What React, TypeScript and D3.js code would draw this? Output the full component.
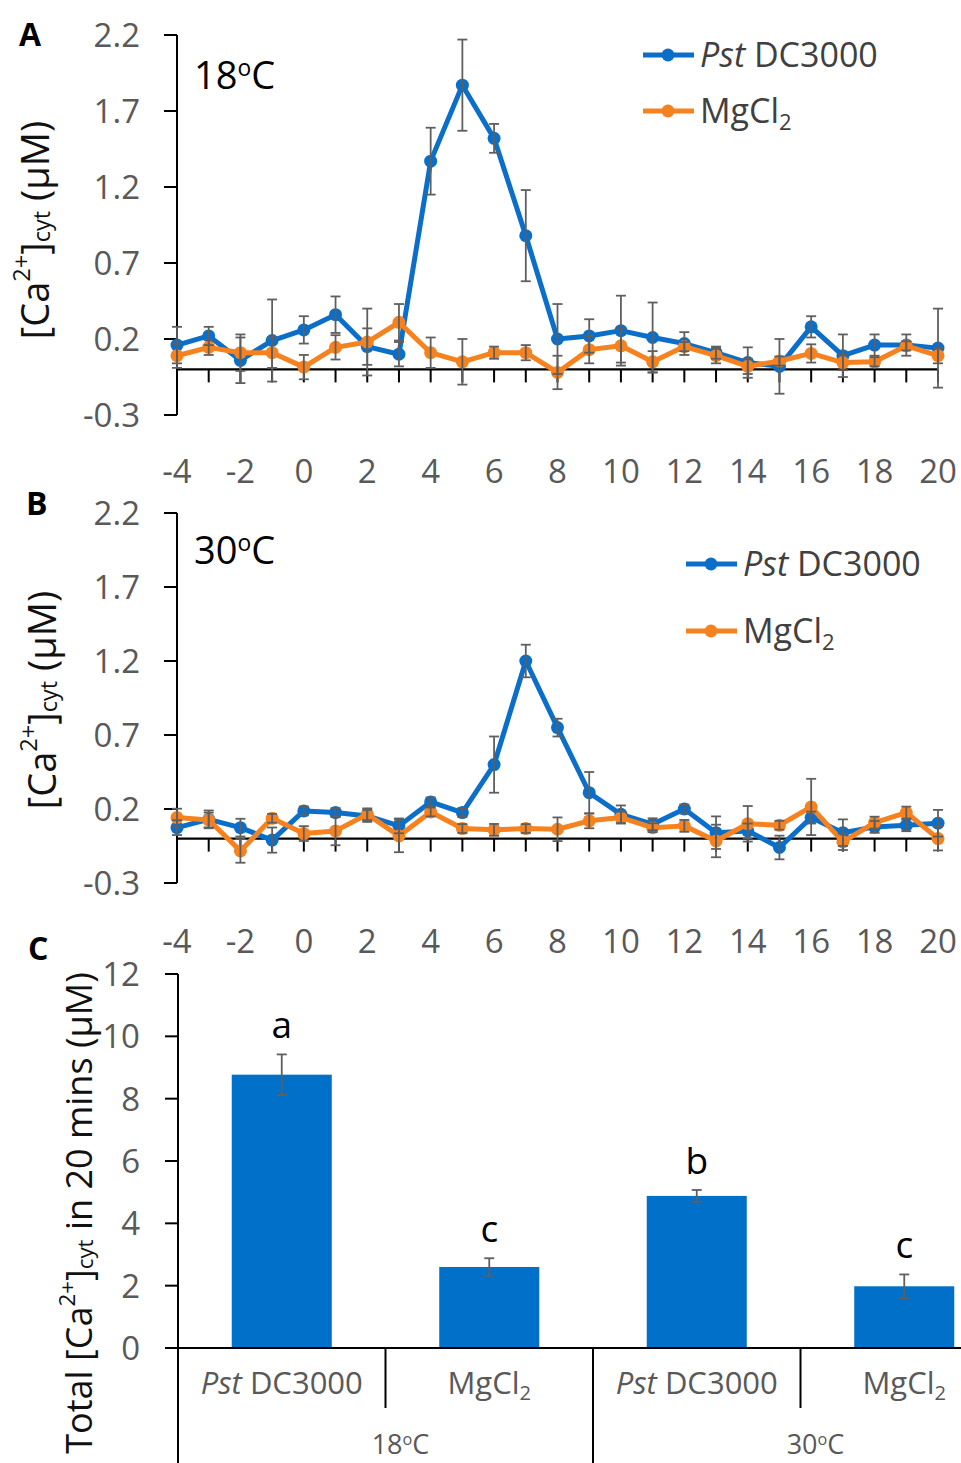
import React from "react";
import * as d3 from "d3";

const minutes = [-4, -3, -2, -1, 0, 1, 2, 3, 4, 5, 6, 7, 8, 9, 10, 11, 12, 13, 14, 15, 16, 17, 18, 19, 20];
const xTickLabels = [-4, -2, 0, 2, 4, 6, 8, 10, 12, 14, 16, 18, 20];
const yTickLabels = [-0.3, 0.2, 0.7, 1.2, 1.7, 2.2];

// Panel A (18 °C)
const pst18 = [0.16, 0.22, 0.06, 0.19, 0.26, 0.36, 0.15, 0.1, 1.37, 1.87, 1.52, 0.88, 0.2, 0.22, 0.255, 0.21, 0.17, 0.11, 0.045, 0.02, 0.28, 0.09, 0.16, 0.16, 0.14];
const pst18Err = [0.12, 0.06, 0.15, 0.27, 0.09, 0.12, 0.12, 0.08, 0.22, 0.3, 0.095, 0.3, 0.23, 0.11, 0.23, 0.23, 0.075, 0.04, 0.1, 0.18, 0.07, 0.14, 0.07, 0.07, 0.26];
const mg18 = [0.09, 0.145, 0.11, 0.11, 0.015, 0.145, 0.18, 0.31, 0.11, 0.05, 0.11, 0.11, -0.02, 0.13, 0.155, 0.05, 0.15, 0.09, 0.02, 0.055, 0.105, 0.045, 0.05, 0.155, 0.09];
const mg18Err = [0.08, 0.05, 0.12, 0.1, 0.08, 0.08, 0.22, 0.12, 0.1, 0.15, 0.04, 0.05, 0.11, 0.09, 0.11, 0.07, 0.03, 0.05, 0.05, 0.03, 0.06, 0.05, 0.03, 0.03, 0.05];

// Panel B (30 °C)
const pst30 = [0.074, 0.13, 0.074, -0.01, 0.187, 0.176, 0.153, 0.086, 0.248, 0.176, 0.5, 1.2, 0.75, 0.31, 0.164, 0.097, 0.2, 0.04, 0.052, -0.06, 0.142, 0.04, 0.079, 0.09, 0.104];
const pst30Err = [0.05, 0.06, 0.06, 0.085, 0.03, 0.03, 0.04, 0.05, 0.03, 0.03, 0.19, 0.11, 0.06, 0.14, 0.06, 0.04, 0.03, 0.11, 0.05, 0.08, 0.04, 0.09, 0.04, 0.04, 0.09];
const mg30 = [0.142, 0.126, -0.083, 0.137, 0.034, 0.052, 0.164, 0.018, 0.18, 0.068, 0.059, 0.068, 0.063, 0.12, 0.142, 0.074, 0.086, -0.016, 0.1, 0.09, 0.214, -0.022, 0.108, 0.176, 0.0];
const mg30Err = [0.06, 0.05, 0.08, 0.03, 0.05, 0.097, 0.04, 0.11, 0.03, 0.03, 0.04, 0.03, 0.08, 0.05, 0.04, 0.03, 0.04, 0.11, 0.12, 0.03, 0.19, 0.055, 0.04, 0.04, 0.08];

// Panel C
const barCategories = ["Pst DC3000", "MgCl2", "Pst DC3000", "MgCl2"];
const barGroups = ["18", "30"];
const barValues = [8.77, 2.6, 4.88, 1.98];
const barErrors = [0.65, 0.28, 0.19, 0.38];
const barLetters = ["a", "c", "b", "c"];
const barTicks = [0, 2, 4, 6, 8, 10, 12];

const FONT = "'Open Sans', 'Noto Sans', sans-serif";
const BLUE = "#0B6FC9";
const ORANGE = "#F5821F";
const BAR = "#0070C8";
const GRAY = "#595959";
const ERR = "#5f5f5f";

function LegendLabel({ kind }: { kind: string }) {
  if (kind === "pst")
    return (
      <>
        <tspan fontStyle="italic">Pst</tspan>
        <tspan> DC3000</tspan>
      </>
    );
  return (
    <>
      <tspan>MgCl</tspan>
      <tspan fontSize="0.65em" dy="0.3em">2</tspan>
    </>
  );
}

function YTitle({ x, y, size }: { x: number; y: number; size: number }) {
  return (
    <text
      transform={`translate(${x},${y}) rotate(-90)`}
      textAnchor="middle"
      dominantBaseline="central"
      fontSize={size}
      fill="#111"
    >
      <tspan>[Ca</tspan>
      <tspan fontSize="0.62em" dy="-0.55em">2+</tspan>
      <tspan dy="0.34em">]</tspan>
      <tspan fontSize="0.62em" dy="0.28em">cyt</tspan>
      <tspan dy="-0.17em"> (µM)</tspan>
    </text>
  );
}

function TempLabel({ x, y, t, size }: { x: number; y: number; t: string; size: number }) {
  return (
    <text x={x} y={y} fontSize={size} fill="#000">
      <tspan>{t}</tspan>
      <tspan fontSize="0.6em" dy="-0.55em">o</tspan>
      <tspan dy="0.33em">C</tspan>
    </text>
  );
}

type PanelProps = {
  yTop: number;
  yBottom: number;
  xLabelY: number;
  pst: number[];
  pstErr: number[];
  mg: number[];
  mgErr: number[];
  temp: string;
  tempY: number;
  legX: number;
  legY1: number;
  legY2: number;
  letter: string;
  letterX: number;
  letterY: number;
  titleX: number;
  titleY: number;
};

function LinePanel(p: PanelProps) {
  const x = d3.scaleLinear().domain([-4, 20]).range([177, 938]);
  const y = d3.scaleLinear().domain([-0.3, 2.2]).range([p.yBottom, p.yTop]);
  const line = d3
    .line<number>()
    .x((_, i) => x(minutes[i]))
    .y((d) => y(d));
  const cap = 5;
  const errBars = (vals: number[], errs: number[], key: string) =>
    vals.map((v, i) => {
      const cx = x(minutes[i]);
      const t = y(v + errs[i]);
      const b = y(v - errs[i]);
      return (
        <g key={key + i} stroke={ERR} strokeWidth={1.8}>
          <line x1={cx} x2={cx} y1={t} y2={b} />
          <line x1={cx - cap} x2={cx + cap} y1={t} y2={t} />
          <line x1={cx - cap} x2={cx + cap} y1={b} y2={b} />
        </g>
      );
    });
  return (
    <g fontFamily={FONT}>
      <text x={p.letterX} y={p.letterY} fontSize={32} fontWeight="bold" fill="#000">
        {p.letter}
      </text>
      <YTitle x={p.titleX} y={p.titleY} size={38} />
      {/* y axis */}
      <line x1={177} x2={177} y1={y(2.2)} y2={y(-0.3)} stroke="#000" strokeWidth={2} />
      {yTickLabels.map((v) => (
        <g key={"yt" + v}>
          <line x1={164} x2={177} y1={y(v)} y2={y(v)} stroke="#000" strokeWidth={2} />
          <text x={140} y={y(v)} dy="0.36em" textAnchor="end" fontSize={33} fill={GRAY}>
            {v.toFixed(1)}
          </text>
        </g>
      ))}
      {/* zero line with ticks */}
      <line x1={x(-4)} x2={x(20)} y1={y(0)} y2={y(0)} stroke="#000" strokeWidth={2.2} />
      {minutes.map((m) => (
        <line key={"xt" + m} x1={x(m)} x2={x(m)} y1={y(0)} y2={y(0) + 13} stroke="#000" strokeWidth={2} />
      ))}
      {xTickLabels.map((m) => (
        <text key={"xl" + m} x={x(m)} y={p.xLabelY} textAnchor="middle" fontSize={33} fill={GRAY}>
          {m}
        </text>
      ))}
      {/* series */}
      <path d={line(p.pst) || ""} fill="none" stroke={BLUE} strokeWidth={5} strokeLinejoin="round" />
      {p.pst.map((v, i) => (
        <circle key={"pc" + i} cx={x(minutes[i])} cy={y(v)} r={6.5} fill={BLUE} />
      ))}
      <path d={line(p.mg) || ""} fill="none" stroke={ORANGE} strokeWidth={5} strokeLinejoin="round" />
      {p.mg.map((v, i) => (
        <circle key={"mc" + i} cx={x(minutes[i])} cy={y(v)} r={6.5} fill={ORANGE} />
      ))}
      {errBars(p.pst, p.pstErr, "pe")}
      {errBars(p.mg, p.mgErr, "me")}
      <TempLabel x={194} y={p.tempY} t={p.temp} size={38} />
      {/* legend */}
      {[
        { c: BLUE, k: "pst", yy: p.legY1 },
        { c: ORANGE, k: "mg", yy: p.legY2 },
      ].map((l) => (
        <g key={l.k}>
          <line x1={p.legX} x2={p.legX + 51} y1={l.yy} y2={l.yy} stroke={l.c} strokeWidth={5} />
          <circle cx={p.legX + 25} cy={l.yy} r={6.5} fill={l.c} />
          <text x={p.legX + 57} y={l.yy} dy="0.36em" fontSize={34} fill="#404040">
            <LegendLabel kind={l.k} />
          </text>
        </g>
      ))}
    </g>
  );
}

function BarPanel() {
  const y = d3.scaleLinear().domain([0, 12]).range([1348, 974]);
  const x = d3
    .scaleBand<number>()
    .domain([0, 1, 2, 3])
    .range([178, 1008])
    .paddingInner(0.518)
    .paddingOuter(0.259);
  const step = x.step();
  const left = 178;
  const cap = 5;
  return (
    <g fontFamily={FONT}>
      <text x={28} y={960} fontSize={32} fontWeight="bold" fill="#000">
        C
      </text>
      <text
        transform={`translate(78,1213) rotate(-90)`}
        textAnchor="middle"
        dominantBaseline="central"
        fontSize={36}
        fill="#111"
      >
        <tspan>Total [Ca</tspan>
        <tspan fontSize="0.62em" dy="-0.55em">2+</tspan>
        <tspan dy="0.34em">]</tspan>
        <tspan fontSize="0.62em" dy="0.28em">cyt</tspan>
        <tspan dy="-0.17em"> in 20 mins (µM)</tspan>
      </text>
      {barValues.map((v, i) => (
        <rect key={"b" + i} x={x(i)} y={y(v)} width={x.bandwidth()} height={y(0) - y(v)} fill={BAR} />
      ))}
      {barValues.map((v, i) => {
        const cx = (x(i) as number) + x.bandwidth() / 2;
        const t = y(v + barErrors[i]);
        const b = y(v - barErrors[i]);
        return (
          <g key={"e" + i} stroke={ERR} strokeWidth={1.8}>
            <line x1={cx} x2={cx} y1={t} y2={b} />
            <line x1={cx - cap} x2={cx + cap} y1={t} y2={t} />
            <line x1={cx - cap} x2={cx + cap} y1={b} y2={b} />
          </g>
        );
      })}
      {barValues.map((v, i) => {
        const cx = (x(i) as number) + x.bandwidth() / 2;
        return (
          <text key={"l" + i} x={cx} y={y(v + barErrors[i]) - 16} textAnchor="middle" fontSize={37} fill="#000">
            {barLetters[i]}
          </text>
        );
      })}
      {/* axes */}
      <line x1={left} x2={left} y1={y(12)} y2={1463} stroke="#000" strokeWidth={2} />
      {barTicks.map((v) => (
        <g key={"t" + v}>
          <line x1={165} x2={left} y1={y(v)} y2={y(v)} stroke="#000" strokeWidth={2} />
          <text x={140} y={y(v)} dy="0.36em" textAnchor="end" fontSize={33} fill={GRAY}>
            {v}
          </text>
        </g>
      ))}
      <line x1={165} x2={1008} y1={y(0)} y2={y(0)} stroke="#000" strokeWidth={2.2} />
      {[1, 2, 3].map((k) => (
        <line
          key={"s" + k}
          x1={left + step * k}
          x2={left + step * k}
          y1={y(0)}
          y2={k === 2 ? 1463 : 1408}
          stroke="#000"
          strokeWidth={2}
        />
      ))}
      {barCategories.map((c, i) => {
        const cx = (x(i) as number) + x.bandwidth() / 2;
        return (
          <text key={"c" + i} x={cx} y={1394} textAnchor="middle" fontSize={31} fill={GRAY}>
            <LegendLabel kind={c.startsWith("Pst") ? "pst" : "mg"} />
          </text>
        );
      })}
      {barGroups.map((g, gi) => {
        const cx = left + step * (2 * gi + 1) + 15;
        return (
          <text key={"g" + gi} x={cx} y={1454} textAnchor="middle" fontSize={27} fill={GRAY}>
            <tspan>{g}</tspan>
            <tspan fontSize="0.6em" dy="-0.55em">o</tspan>
            <tspan dy="0.33em">C</tspan>
          </text>
        );
      })}
    </g>
  );
}

export default function App() {
  return (
    <div style={{ position: "absolute", left: 0, top: 0 }}>
      <svg width={961} height={1463} viewBox="0 0 961 1463" style={{ display: "block", background: "#fff" }}>
        <LinePanel
          yTop={35}
          yBottom={415}
          xLabelY={483}
          pst={pst18}
          pstErr={pst18Err}
          mg={mg18}
          mgErr={mg18Err}
          temp="18"
          tempY={89}
          legX={643}
          legY1={55}
          legY2={111}
          letter="A"
          letterX={19}
          letterY={46}
          titleX={34}
          titleY={230}
        />
        <LinePanel
          yTop={513}
          yBottom={883}
          xLabelY={953}
          pst={pst30}
          pstErr={pst30Err}
          mg={mg30}
          mgErr={mg30Err}
          temp="30"
          tempY={564}
          legX={686}
          legY1={564}
          legY2={631}
          letter="B"
          letterX={26}
          letterY={515}
          titleX={41}
          titleY={700}
        />
        <BarPanel />
      </svg>
    </div>
  );
}
